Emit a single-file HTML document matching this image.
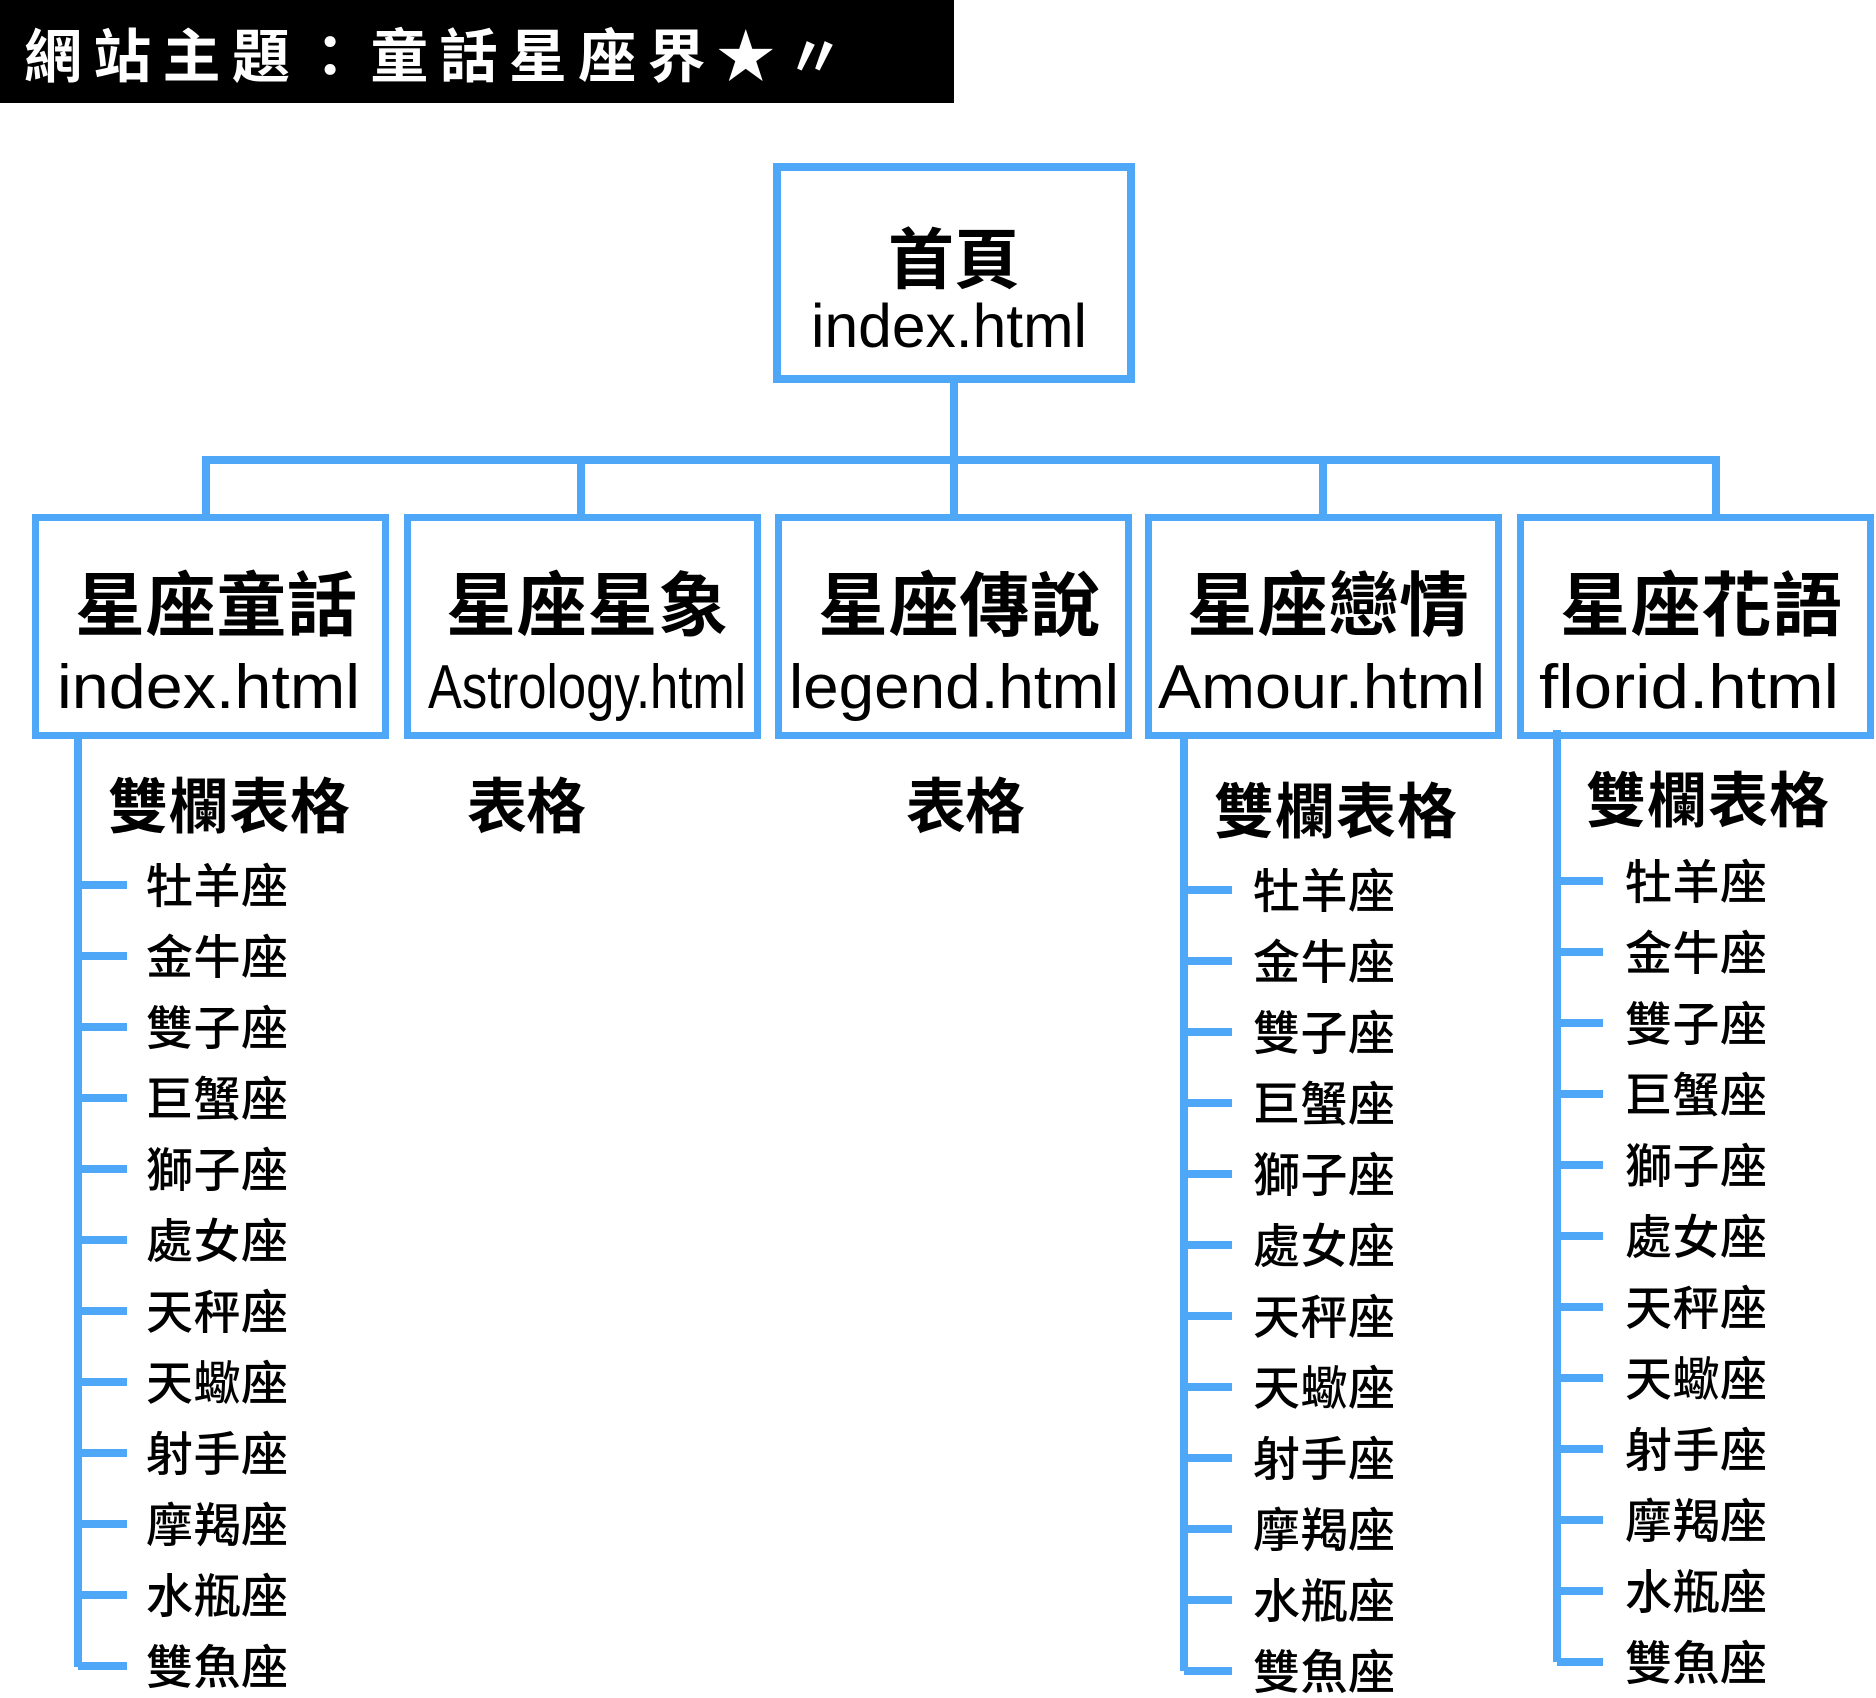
<!DOCTYPE html>
<html><head><meta charset="utf-8"><style>
html,body{margin:0;padding:0;background:#fff;}
svg{display:block;}
.cj{font-family:"Liberation Sans","Noto Sans CJK TC",sans-serif;}
</style></head><body>
<svg width="1876" height="1698" viewBox="0 0 1876 1698" xmlns="http://www.w3.org/2000/svg">
<rect x="0" y="0" width="954" height="103" fill="#000"/>
<text x="24" y="77" font-size="58" fill="#fff" font-weight="700" class="cj" font-family="Noto Sans CJK TC, sans-serif" textLength="820" lengthAdjust="spacing">網站主題：童話星座界★〃</text>

<g stroke="#4fa8f7" fill="none">
<rect x="777" y="167" width="354" height="212" stroke-width="8"/>
<line x1="954" y1="383" x2="954" y2="460" stroke-width="8"/>
<polyline points="206,514 206,460 1716,460 1716,514" stroke-width="8"/>
<line x1="581" y1="460" x2="581" y2="514" stroke-width="8"/>
<line x1="954" y1="460" x2="954" y2="514" stroke-width="8"/>
<line x1="1323" y1="464" x2="1323" y2="514" stroke-width="8"/>
<rect x="35.5" y="517.5" width="350" height="218" stroke-width="7"/>
<rect x="407.5" y="517.5" width="350" height="218" stroke-width="7"/>
<rect x="778.5" y="517.5" width="350" height="218" stroke-width="7"/>
<rect x="1148.5" y="517.5" width="350" height="218" stroke-width="7"/>
<rect x="1520.5" y="517.5" width="350" height="218" stroke-width="7"/>
<line x1="78" y1="739" x2="78" y2="1667" stroke-width="8"/>
<line x1="1184" y1="739" x2="1184" y2="1671" stroke-width="8"/>
<line x1="1557" y1="730" x2="1557" y2="1662" stroke-width="8"/>
</g>
<g stroke="#4fa8f7" stroke-width="8" id="ticks"></g>

<g fill="#000" font-family="Liberation Sans, sans-serif">
<text x="954" y="283" font-size="66" font-weight="700" text-anchor="middle" font-family="Noto Sans CJK TC, sans-serif">首頁</text>
<text x="811" y="347" font-size="61" textLength="276" lengthAdjust="spacingAndGlyphs">index.html</text>

<g font-size="70" font-weight="700" font-family="Noto Sans CJK TC, sans-serif">
<text x="75" y="630" textLength="282">星座童話</text>
<text x="446" y="630" textLength="282">星座星象</text>
<text x="818" y="630" textLength="282">星座傳說</text>
<text x="1187" y="630" textLength="282">星座戀情</text>
<text x="1560" y="630" textLength="282">星座花語</text>
</g>
<g font-size="62">
<text x="57" y="708" textLength="303" lengthAdjust="spacingAndGlyphs">index.html</text>
<text x="428" y="708" textLength="318" lengthAdjust="spacingAndGlyphs">Astrology.html</text>
<text x="789" y="708" textLength="330" lengthAdjust="spacingAndGlyphs">legend.html</text>
<text x="1158" y="708" textLength="327" lengthAdjust="spacingAndGlyphs">Amour.html</text>
<text x="1539" y="708" textLength="300" lengthAdjust="spacingAndGlyphs">florid.html</text>
</g>
<g font-size="60" font-weight="700" font-family="Noto Sans CJK TC, sans-serif">
<text x="108" y="828" textLength="242">雙欄表格</text>
<text x="467" y="828" textLength="119">表格</text>
<text x="906" y="828" textLength="119">表格</text>
<text x="1214" y="833" textLength="243">雙欄表格</text>
<text x="1586" y="822" textLength="243">雙欄表格</text>
</g>
</g>
<g id="items" fill="#000" font-size="47" font-weight="500" font-family="Noto Sans CJK TC, sans-serif"></g>
<script>
var names=["牡羊座","金牛座","雙子座","巨蟹座","獅子座","處女座","天秤座","天蠍座","射手座","摩羯座","水瓶座","雙魚座"];
var cols=[[78,127,146,885],[1184,1232,1253,890],[1557,1603,1625,881]];
var ns="http://www.w3.org/2000/svg",ti=document.getElementById("ticks"),it=document.getElementById("items");
cols.forEach(function(c){for(var i=0;i<12;i++){var y=c[3]+i*71;
var l=document.createElementNS(ns,"line");l.setAttribute("x1",c[0]);l.setAttribute("x2",c[1]);l.setAttribute("y1",y);l.setAttribute("y2",y);ti.appendChild(l);
var t=document.createElementNS(ns,"text");t.setAttribute("x",c[2]);t.setAttribute("y",y+18);t.setAttribute("textLength","142");t.textContent=names[i];it.appendChild(t);}});
</script>
</svg>
</body></html>
